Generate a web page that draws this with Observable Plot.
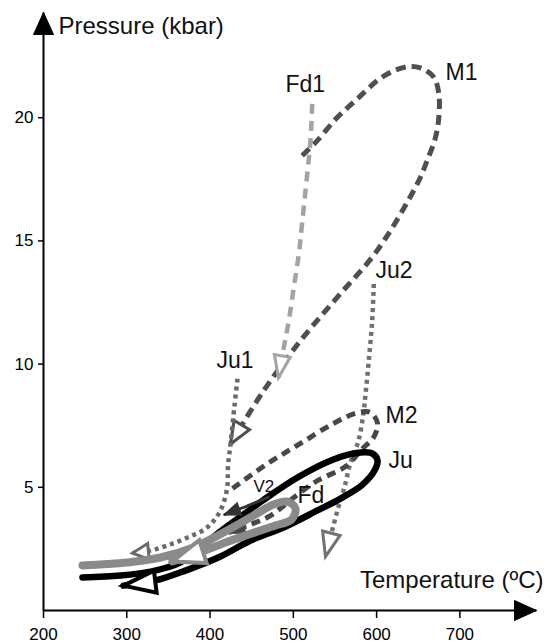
<!DOCTYPE html>
<html>
<head>
<meta charset="utf-8">
<script src="https://cdn.jsdelivr.net/npm/d3@7"></script>
<script src="https://cdn.jsdelivr.net/npm/@observablehq/plot@0.6"></script>
<style>
  body { margin: 0; background: #fff; }
</style>
</head>
<body>
<div id="chart"></div>
<script>
// ---- data (temperature °C, pressure kbar) ----
const xTicks = [200, 300, 400, 500, 600, 700];
const yTicks = [5, 10, 15, 20];

const M1 = [[510.6,18.46],[528.7,19.07],[552.7,20.01],[576.7,20.76],[600.7,21.50],[616.7,21.84],[636.7,22.07],[652.7,22.02],[668.7,21.64],[674.7,20.96],[674.7,20.01],[670.7,19.20],[660.7,18.26],[648.7,17.31],[600.7,14.61],[552.7,12.71],[508.6,10.95],[464.5,8.93],[424.6,6.76]];
const Fd1 = [[522.7,20.56],[520.6,19.07],[516.7,17.72],[510.6,15.74],[506.6,14.47],[500.6,13.12],[494.6,11.77],[488.6,10.68],[482.2,9.45]];
const Ju2 = [[596.6,13.25],[594.7,11.77],[590.6,10.14],[586.7,8.79],[584.6,8.11],[578.3,6.90],[568.6,6.00],[561.4,5.00],[553.0,4.06],[538.6,2.19]];
const Ju1 = [[433.0,9.41],[429.4,8.32],[424.6,6.76],[421.5,5.84],[420.6,4.99],[412.5,4.06],[396.9,3.38],[372.9,2.96],[348.9,2.64],[328.5,2.43],[306.9,2.33]];
const M2 = [[427.0,4.95],[469.0,5.96],[508.6,6.78],[548.2,7.59],[577.1,8.03],[592.7,8.03],[601.1,7.59],[596.3,7.02],[584.3,6.61],[562.6,5.84],[529.0,5.27],[500.2,4.58],[472.6,3.85],[448.6,3.49],[422.1,3.16]];
const V2 = [[470.0,4.60],[445.0,4.25],[418.0,3.90]];
const Ju = [[246.8,1.34],[292.5,1.42],[328.5,1.58],[362.1,1.91],[388.5,2.56],[412.5,3.21],[436.6,3.81],[463.0,4.46],[505.0,5.40],[548.2,6.13],[580.7,6.41],[595.1,6.37],[601.1,6.09],[597.5,5.68],[583.1,5.11],[556.6,4.54],[529.0,4.06],[488.2,3.37],[448.6,2.84],[412.5,2.19],[370.5,1.62],[334.5,1.22],[296.1,1.01]];
const Fd = [[246.8,1.83],[300.9,1.95],[340.5,2.15],[380.1,2.56],[412.5,3.10],[448.6,3.78],[476.2,4.30],[493.0,4.42],[502.6,4.14],[497.8,3.69],[478.6,3.45],[454.6,3.18],[418.5,2.76],[388.5,2.37],[354.9,1.99]];

const pathNames = ["Fd1", "M1", "Ju2", "Ju1", "M2", "Ju", "Fd"];
const pathNameT = [490.6, 682.7, 598.7, 407.7, 610.7, 614.3, 505.0];
const pathNameP = [21.06, 21.54, 13.51, 9.86, 7.59, 5.80, 4.38];
const smallName = ["V2"], smallNameT = [452.2], smallNameP = [4.79];

const xLabel = "Temperature (ºC)";
const yLabel = "Pressure (kbar)";
const xMax = 792, yMax = 24.27;

// ---- arrowhead markers ----
function tri({len = 22, half = 9, fill = "white", sw = 3} = {}) {
  return (color) => {
    const ns = "http://www.w3.org/2000/svg";
    const m = document.createElementNS(ns, "marker");
    const pad = sw + 2;
    m.setAttribute("viewBox", `${-len - pad} ${-half - pad} ${len + 2 * pad} ${2 * half + 2 * pad}`);
    m.setAttribute("markerWidth", len + 2 * pad);
    m.setAttribute("markerHeight", 2 * half + 2 * pad);
    m.setAttribute("markerUnits", "userSpaceOnUse");
    m.setAttribute("refX", 0);
    m.setAttribute("refY", 0);
    m.setAttribute("orient", "auto");
    m.setAttribute("overflow", "visible");
    const p = document.createElementNS(ns, "path");
    p.setAttribute("d", `M0,0L${-len},${-half}L${-len},${half}Z`);
    p.setAttribute("fill", fill === "stroke" ? color : fill);
    p.setAttribute("stroke", color);
    p.setAttribute("stroke-width", sw);
    p.setAttribute("stroke-dasharray", "none");
    p.setAttribute("stroke-linejoin", "miter");
    m.appendChild(p);
    return m;
  };
}

const chart = Plot.plot({
  width: 544,
  height: 644,
  marginLeft: 43,
  marginRight: 8,
  marginTop: 12,
  marginBottom: 34,
  x: {domain: [200, xMax], label: null},
  y: {domain: [0, yMax], label: null},
  style: {fontFamily: "'Liberation Sans', Arial, sans-serif", fontSize: "17px", background: "white", color: "black", overflow: "visible"},
  marks: [
    Plot.axisX({ticks: xTicks, tickSize: 8, tickPadding: 9, fontSize: 17, strokeWidth: 1.5, label: null}),
    Plot.axisY({ticks: yTicks, tickSize: 5, tickPadding: 5, fontSize: 17, strokeWidth: 1.5, label: null}),
    Plot.link([0], {x1: 200, x2: xMax, y1: 0, y2: 0, stroke: "black", strokeWidth: 2, markerEnd: tri({len: 22, half: 10, fill: "stroke", sw: 1})}),
    Plot.link([0], {x1: 200, x2: 200, y1: 0, y2: yMax, stroke: "black", strokeWidth: 2, markerEnd: tri({len: 22, half: 10, fill: "stroke", sw: 1})}),

    Plot.line(Ju2, {curve: "catmull-rom", stroke: "#717171", strokeWidth: 4.5, strokeDasharray: "4,4", strokeLinecap: "butt", markerEnd: tri({len: 24, half: 9, sw: 3})}),
    Plot.line(M1, {curve: "catmull-rom", stroke: "#4f4f4f", strokeWidth: 5, strokeDasharray: "10,6", strokeLinecap: "butt", markerEnd: tri({len: 22, half: 9, sw: 3})}),
    Plot.line(Fd1, {curve: "catmull-rom", stroke: "#a3a3a3", strokeWidth: 4.5, strokeDasharray: "10,7", strokeLinecap: "butt", markerEnd: tri({len: 22, half: 8, sw: 3})}),
    Plot.line(M2, {curve: "catmull-rom", stroke: "#474747", strokeWidth: 5, strokeDasharray: "9,6", strokeLinecap: "butt", markerEnd: tri({len: 16, half: 6, fill: "stroke", sw: 2})}),
    Plot.line(Ju1, {curve: "catmull-rom", stroke: "#6a6a6a", strokeWidth: 4.5, strokeDasharray: "4,4", strokeLinecap: "butt", markerEnd: tri({len: 16, half: 8, sw: 3})}),
    Plot.line(Ju, {curve: "catmull-rom", stroke: "black", strokeWidth: 6.5, markerEnd: tri({len: 32, half: 11, sw: 4})}),
    Plot.line(V2, {curve: "catmull-rom", stroke: "#333", strokeWidth: 3, markerEnd: tri({len: 15, half: 6, fill: "stroke", sw: 2})}),
    Plot.line(Fd, {curve: "catmull-rom", stroke: "#8a8a8a", strokeWidth: 8, markerEnd: tri({len: 32, half: 12, sw: 4})}),

    Plot.text(pathNames, {x: (d, i) => pathNameT[i], y: (d, i) => pathNameP[i], text: d => d, textAnchor: "start", lineAnchor: "bottom", fontSize: 23, fill: "#111"}),
    Plot.text(smallName, {x: (d, i) => smallNameT[i], y: (d, i) => smallNameP[i], text: d => d, textAnchor: "start", lineAnchor: "bottom", fontSize: 17, fill: "#111"}),
    Plot.text([yLabel], {x: 218, y: 23.41, text: d => d, textAnchor: "start", lineAnchor: "bottom", fontSize: 24, fill: "#111"}),
    Plot.text([xLabel], {x: 800.4, y: 0.93, text: d => d, textAnchor: "end", lineAnchor: "bottom", fontSize: 24, fill: "#111"})
  ]
});
document.getElementById("chart").appendChild(chart);
</script>
</body>
</html>
